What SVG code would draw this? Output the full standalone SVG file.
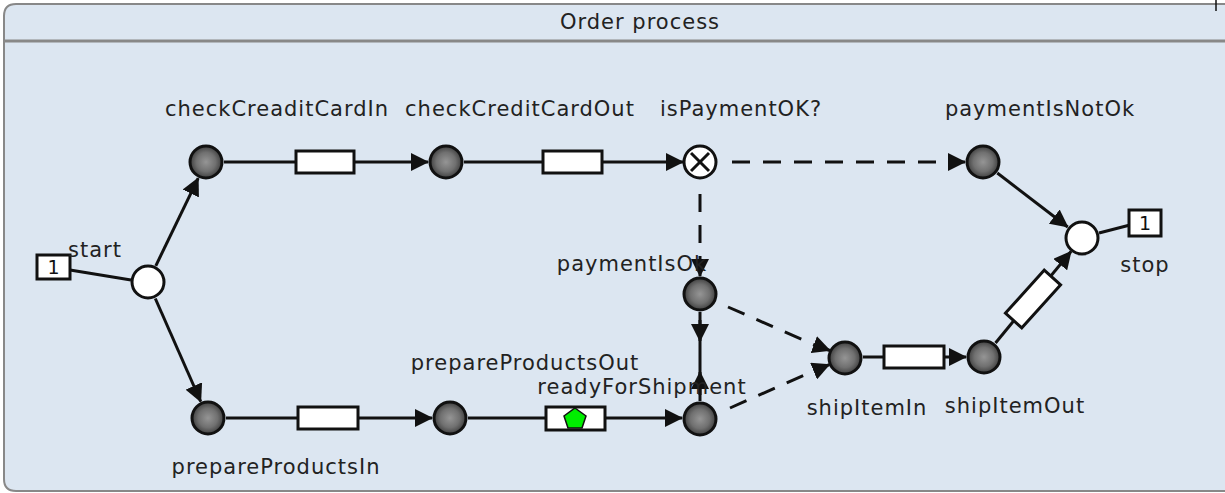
<svg xmlns="http://www.w3.org/2000/svg" width="1225" height="493" viewBox="0 0 1225 493">
<style>
.lbl{font-family:"DejaVu Sans",Verdana,sans-serif;font-size:21px;letter-spacing:1px;fill:#222;}
.tok{font-family:"DejaVu Sans",Verdana,sans-serif;font-size:19px;fill:#111;text-anchor:middle;}
.place{fill:url(#pg);stroke:#111;stroke-width:3;}
.wplace{fill:#fff;stroke:#111;stroke-width:3;}
.trans{fill:#fff;stroke:#111;stroke-width:3;}
.e{fill:none;stroke:#111;stroke-width:3;}
.d{fill:none;stroke:#111;stroke-width:3;stroke-dasharray:18 13;}
</style>
<defs>
<radialGradient id="pg" cx="50%" cy="50%" r="50%">
<stop offset="0" stop-color="#959595"/>
<stop offset="0.6" stop-color="#707070"/>
<stop offset="1" stop-color="#3f3f3f"/>
</radialGradient>
<marker id="ah" markerUnits="userSpaceOnUse" markerWidth="18" markerHeight="18" viewBox="0 0 18 18" refX="17" refY="9" orient="auto">
<path d="M0,0 L18,9 L0,18 Z" fill="#111"/>
</marker>
</defs>
<rect x="0" y="0" width="1225" height="493" fill="#fff"/>
<g id="frame">
<path d="M1235,4 L16,4 Q4,4 4,16 L4,479 Q4,491 16,491 L1235,491" fill="#dce6f1" stroke="#888" stroke-width="2"/>
<line x1="4" y1="41" x2="1235" y2="41" stroke="#888" stroke-width="3"/>
<text x="640" y="29" class="lbl" text-anchor="middle">Order process</text>
<line x1="1216" y1="0" x2="1216" y2="11" stroke="#111" stroke-width="1.5"/>
</g>
<g id="connectors">
<line class="e" x1="70" y1="270" x2="131" y2="280"/>
<path class="e" d="M155.8,265.8 L198.2,178.2" marker-end="url(#ah)"/>
<path class="e" d="M155.3,298.5 L200.7,401.5" marker-end="url(#ah)"/>
<path class="e" d="M224,162 L428,162" marker-end="url(#ah)"/>
<path class="e" d="M464,162 L683,162" marker-end="url(#ah)"/>
<path class="d" d="M732,162 L950,162"/>
<path class="e" d="M950,162 L965,162" marker-end="url(#ah)"/>
<path class="d" d="M700,194 L700,262"/>
<path class="e" d="M700,262 L700,276" marker-end="url(#ah)"/>
<path class="e" d="M997.3,173 L1067.7,227" marker-end="url(#ah)"/>
<line class="e" x1="1099" y1="233" x2="1130" y2="225"/>
<line class="e" x1="700" y1="312" x2="700" y2="401"/>
<path class="e" d="M700,320 L700,341" marker-end="url(#ah)"/>
<path class="e" d="M700,395 L700,372" marker-end="url(#ah)"/>
<path class="d" d="M728,307 L817,346"/>
<path class="e" d="M815,345 L829.8,350.5" marker-end="url(#ah)"/>
<path class="d" d="M730,408 L816,370"/>
<path class="e" d="M815,370.5 L829.3,364.6" marker-end="url(#ah)"/>
<path class="e" d="M863,357 L966,357" marker-end="url(#ah)"/>
<path class="e" d="M995.5,343 L1071,251.5" marker-end="url(#ah)"/>
<path class="e" d="M226,418 L432,418" marker-end="url(#ah)"/>
<path class="e" d="M468,418 L682,418" marker-end="url(#ah)"/>
</g>
<g id="t1"><rect class="trans" x="296" y="151" width="58" height="22"/></g>
<g id="t2"><rect class="trans" x="543" y="151" width="59" height="22"/></g>
<g id="t3"><rect class="trans" x="298" y="407" width="60" height="22"/></g>
<g id="t4"><rect class="trans" x="546" y="407" width="59" height="23"/>
<polygon points="575,408 586,416 582,428 568,428 564,416" fill="#00ee00" stroke="#111" stroke-width="1.5"/></g>
<g id="t5"><rect class="trans" x="884" y="346" width="60" height="22"/></g>
<g id="t6"><rect class="trans" x="-29" y="-11" width="58" height="22" transform="translate(1033,299) rotate(-48)"/></g>
<g id="start">
<rect class="trans" x="37" y="255" width="33" height="24"/>
<text class="tok" x="53.5" y="274">1</text>
<circle class="wplace" cx="148" cy="282" r="16"/>
<text class="lbl" x="68" y="257">start</text>
</g>
<g id="checkCreaditCardIn">
<circle class="place" cx="206" cy="162" r="16"/>
<text class="lbl" x="277" y="116" text-anchor="middle">checkCreaditCardIn</text>
</g>
<g id="checkCreditCardOut">
<circle class="place" cx="446" cy="162" r="16"/>
<text class="lbl" x="520" y="116" text-anchor="middle">checkCreditCardOut</text>
</g>
<g id="isPaymentOK">
<circle class="wplace" cx="700" cy="162" r="16"/>
<line x1="691" y1="153" x2="709" y2="171" stroke="#111" stroke-width="3"/>
<line x1="709" y1="153" x2="691" y2="171" stroke="#111" stroke-width="3"/>
<text class="lbl" x="741" y="116" text-anchor="middle">isPaymentOK?</text>
</g>
<g id="paymentIsNotOk">
<circle class="place" cx="983" cy="162" r="16"/>
<text class="lbl" x="1040" y="116" text-anchor="middle">paymentIsNotOk</text>
</g>
<g id="stop">
<circle class="wplace" cx="1082" cy="238" r="16"/>
<rect class="trans" x="1129" y="210" width="32" height="26"/>
<text class="tok" x="1145" y="230">1</text>
<text class="lbl" x="1145" y="272" text-anchor="middle">stop</text>
</g>
<g id="paymentIsOk">
<text class="lbl" x="632" y="271" text-anchor="middle">paymentIsOk</text>
<circle class="place" cx="700" cy="294" r="16"/>
</g>
<g id="prepareProductsIn">
<circle class="place" cx="208" cy="418" r="16"/>
<text class="lbl" x="276" y="474" text-anchor="middle">prepareProductsIn</text>
</g>
<g id="prepareProductsOut">
<circle class="place" cx="450" cy="418" r="16"/>
<text class="lbl" x="525" y="370" text-anchor="middle">prepareProductsOut</text>
</g>
<g id="readyForShipment">
<text class="lbl" x="642" y="394" text-anchor="middle">readyForShipment</text>
<circle class="place" cx="700" cy="419" r="16"/>
</g>
<g id="shipItemIn">
<circle class="place" cx="845" cy="358" r="16"/>
<text class="lbl" x="867" y="415" text-anchor="middle">shipItemIn</text>
</g>
<g id="shipItemOut">
<circle class="place" cx="984" cy="357" r="16"/>
<text class="lbl" x="1015" y="413" text-anchor="middle">shipItemOut</text>
</g>
</svg>
